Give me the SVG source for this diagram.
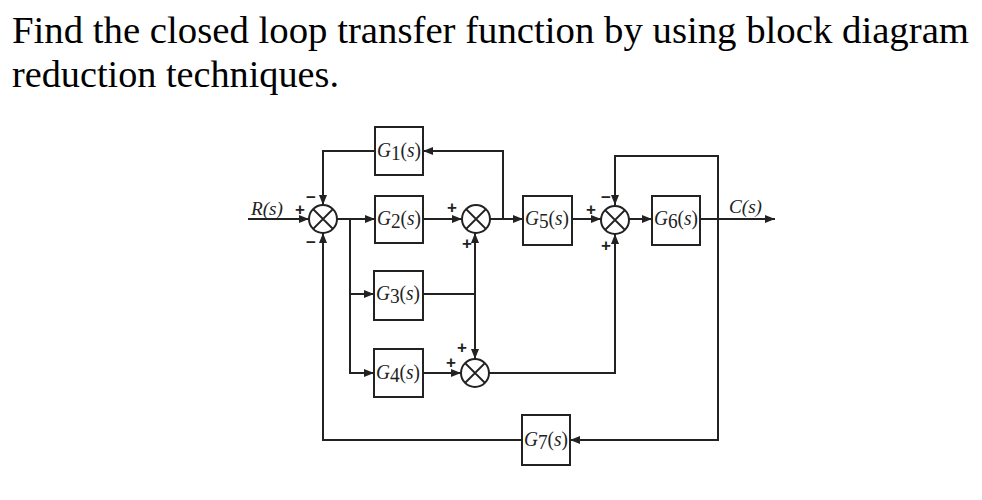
<svg xmlns="http://www.w3.org/2000/svg" width="982" height="500" viewBox="0 0 982 500">
<defs>
<style>
.ttl{font-family:"Liberation Serif","Times New Roman",serif;font-size:38px;fill:#000}
.blk{fill:#fff;stroke:#222;stroke-width:2}
.sum{fill:#fff;stroke:#222;stroke-width:2}
.x{stroke:#222;stroke-width:1.8}
.lbl{font-family:"Liberation Serif","Times New Roman",serif;font-size:20px;fill:#222}
.io{font-family:"Liberation Serif","Times New Roman",serif;font-size:18px;font-style:italic;fill:#222}
.it{font-style:italic}
.sg{font-family:"Liberation Sans",Arial,sans-serif;font-size:17px;font-weight:bold;fill:#222;text-anchor:middle}
.w{fill:none;stroke:#222;stroke-width:2}
</style>
<marker id="ar" markerUnits="userSpaceOnUse" markerWidth="10" markerHeight="8" refX="10" refY="4" orient="auto">
<path d="M0,0 L10,4 L0,8 z" fill="#222"/>
</marker>
</defs>
<rect width="982" height="500" fill="#fff"/>
<g id="title">
<text class="ttl" x="12" y="43" textLength="957" lengthAdjust="spacingAndGlyphs">Find the closed loop transfer function by using block diagram</text>
<text class="ttl" x="12" y="87" textLength="327" lengthAdjust="spacingAndGlyphs">reduction techniques.</text>
</g>
<g id="connectors">
<path class="w" d="M248,219 H309" marker-end="url(#ar)"/>
<path class="w" d="M337,219 H375" marker-end="url(#ar)"/>
<path class="w" d="M423,219 H462" marker-end="url(#ar)"/>
<path class="w" d="M490,219 H523" marker-end="url(#ar)"/>
<path class="w" d="M503,219 V151 H423" marker-end="url(#ar)"/>
<path class="w" d="M375,151 H323 V205" marker-end="url(#ar)"/>
<path class="w" d="M572,219 H601" marker-end="url(#ar)"/>
<path class="w" d="M629,219 H652" marker-end="url(#ar)"/>
<path class="w" d="M700,219 H775" marker-end="url(#ar)"/>
<path class="w" d="M718,219 V156 H615 V205" marker-end="url(#ar)"/>
<path class="w" d="M718,219 V440 H570" marker-end="url(#ar)"/>
<path class="w" d="M522,440 H323 V233" marker-end="url(#ar)"/>
<path class="w" d="M350,219 V373 H374" marker-end="url(#ar)"/>
<path class="w" d="M350,294 H374" marker-end="url(#ar)"/>
<path class="w" d="M423,294 H475"/>
<path class="w" d="M475,294 V233" marker-end="url(#ar)"/>
<path class="w" d="M475,294 V359" marker-end="url(#ar)"/>
<path class="w" d="M423,373 H461" marker-end="url(#ar)"/>
<path class="w" d="M489,373 H615 V234" marker-end="url(#ar)"/>
</g>
<g id="G1"><rect class="blk" x="375" y="127" width="48" height="48"/><text class="lbl" x="377" y="157" textLength="44" lengthAdjust="spacingAndGlyphs"><tspan class="it">G</tspan><tspan dy="3">1</tspan><tspan dy="-3">(</tspan><tspan class="it">s</tspan>)</text></g>
<g id="G2"><rect class="blk" x="375" y="196" width="48" height="47"/><text class="lbl" x="377" y="225" textLength="44" lengthAdjust="spacingAndGlyphs"><tspan class="it">G</tspan><tspan dy="3">2</tspan><tspan dy="-3">(</tspan><tspan class="it">s</tspan>)</text></g>
<g id="G3"><rect class="blk" x="374" y="271" width="49" height="49"/><text class="lbl" x="376" y="300" textLength="44" lengthAdjust="spacingAndGlyphs"><tspan class="it">G</tspan><tspan dy="3">3</tspan><tspan dy="-3">(</tspan><tspan class="it">s</tspan>)</text></g>
<g id="G4"><rect class="blk" x="374" y="349" width="49" height="48"/><text class="lbl" x="376" y="379" textLength="44" lengthAdjust="spacingAndGlyphs"><tspan class="it">G</tspan><tspan dy="3">4</tspan><tspan dy="-3">(</tspan><tspan class="it">s</tspan>)</text></g>
<g id="G5"><rect class="blk" x="523" y="196" width="49" height="49"/><text class="lbl" x="525" y="225" textLength="44" lengthAdjust="spacingAndGlyphs"><tspan class="it">G</tspan><tspan dy="3">5</tspan><tspan dy="-3">(</tspan><tspan class="it">s</tspan>)</text></g>
<g id="G6"><rect class="blk" x="652" y="196" width="48" height="49"/><text class="lbl" x="654" y="225" textLength="44" lengthAdjust="spacingAndGlyphs"><tspan class="it">G</tspan><tspan dy="3">6</tspan><tspan dy="-3">(</tspan><tspan class="it">s</tspan>)</text></g>
<g id="G7"><rect class="blk" x="522" y="415" width="48" height="50"/><text class="lbl" x="524" y="446" textLength="44" lengthAdjust="spacingAndGlyphs"><tspan class="it">G</tspan><tspan dy="3">7</tspan><tspan dy="-3">(</tspan><tspan class="it">s</tspan>)</text></g>
<g id="sum1"><circle class="sum" cx="323" cy="219" r="14"/><path class="x" d="M313,209 L333,229 M333,209 L313,229"/></g>
<g id="sum2"><circle class="sum" cx="476" cy="219" r="14"/><path class="x" d="M466,209 L486,229 M486,209 L466,229"/></g>
<g id="sum3"><circle class="sum" cx="615" cy="220" r="14"/><path class="x" d="M605,210 L625,230 M625,210 L605,230"/></g>
<g id="sum4"><circle class="sum" cx="475" cy="373" r="14"/><path class="x" d="M465,363 L485,383 M485,363 L465,383"/></g>
<g id="labels">
<text class="io" x="251" y="215" textLength="32" lengthAdjust="spacingAndGlyphs">R(s)</text>
<text class="io" x="729" y="213" textLength="33" lengthAdjust="spacingAndGlyphs">C(s)</text>
<text class="sg" x="300" y="215">+</text>
<text class="sg" x="311" y="203">−</text>
<text class="sg" x="311" y="248">−</text>
<text class="sg" x="452" y="213">+</text>
<text class="sg" x="467" y="249">+</text>
<text class="sg" x="591" y="215">+</text>
<text class="sg" x="606" y="203">−</text>
<text class="sg" x="606" y="251">+</text>
<text class="sg" x="462" y="353">+</text>
<text class="sg" x="451" y="368">+</text>
</g>
</svg>
